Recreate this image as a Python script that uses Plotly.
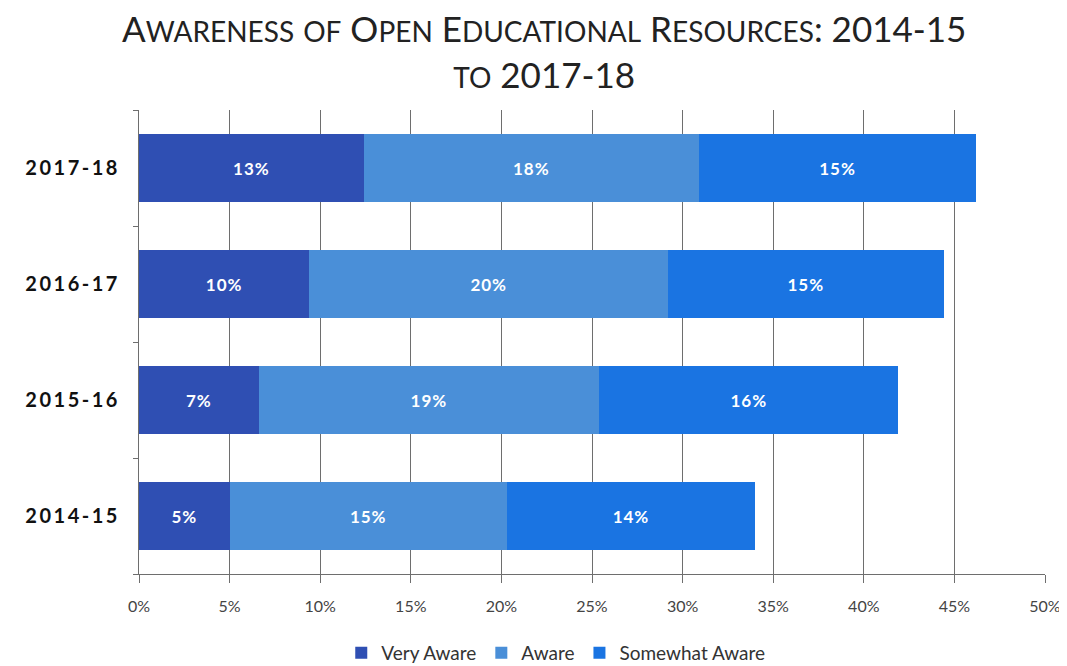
import plotly.graph_objects as go

years = ["2014-15", "2015-16", "2016-17", "2017-18"]
series_names = ["Very Aware", "Aware", "Somewhat Aware"]
very_aware = [5.0, 6.6, 9.4, 12.4]
aware = [15.3, 18.8, 19.8, 18.5]
somewhat_aware = [13.7, 16.5, 15.2, 15.3]
very_labels = ["5%", "7%", "10%", "13%"]
aware_labels = ["15%", "19%", "20%", "18%"]
somewhat_labels = ["14%", "16%", "15%", "15%"]
x_ticks = [0, 5, 10, 15, 20, 25, 30, 35, 40, 45, 50]

colors = ["#2f4fb3", "#4a8fd8", "#1a74e2"]

fig = go.Figure()
for name, vals, labels, col in zip(series_names,
                                   [very_aware, aware, somewhat_aware],
                                   [very_labels, aware_labels, somewhat_labels],
                                   colors):
    fig.add_trace(go.Bar(
        y=years, x=vals, name=name, orientation="h",
        marker=dict(color=col, line=dict(width=0)),
        text=[f"<span style='letter-spacing:1px'>{t}</span>" for t in labels],
        textposition="inside", insidetextanchor="middle",
        textfont=dict(family="Lato", size=17, color="white", weight="bold"),
        width=0.58,
    ))


def small_caps(s, small=28):
    out = ""
    for ch in s:
        if ch.islower():
            out += f"<span style='font-size:{small}px'>{ch.upper()}</span>"
        else:
            out += ch
    return out


# the page adds an 8px body margin, so figure coords = page coords - 8
title = (small_caps("Awareness of Open Educational Resources: 2014-15")
         + "<br>" + small_caps("to 2017-18"))
fig.add_annotation(text=title, xref="paper", yref="paper",
                   x=0.447, y=1 + (102 - 43) / 464, xanchor="center",
                   yanchor="middle", showarrow=False,
                   font=dict(family="Lato", size=35, color="#222"))

fig.update_layout(
    barmode="stack",
    width=1059, height=658,
    margin=dict(l=131, r=22, t=102, b=92),
    paper_bgcolor="white", plot_bgcolor="white",
    xaxis=dict(range=[0, 50], tickvals=x_ticks,
               ticktext=[f"{v}%" for v in x_ticks],
               showgrid=True, gridcolor="#6e6e6e", gridwidth=1.2,
               showline=True, linecolor="#6e6e6e", linewidth=1.2,
               ticks="outside", ticklen=8, tickcolor="#6e6e6e",
               tickfont=dict(family="Lato", size=16, color="#444"),
               ticklabelstandoff=10, ticklabeloverflow="allow",
               zeroline=False, fixedrange=True, automargin=False),
    yaxis=dict(categoryorder="array", categoryarray=years,
               tickvals=years,
               ticktext=[f"<span style='letter-spacing:2.5px'>{y}</span>" for y in years],
               showline=True, linecolor="#6e6e6e", linewidth=1.2,
               tickfont=dict(family="Lato", size=20, color="#111", weight="bold"),
               ticks="outside", tickson="boundaries", ticklen=5,
               tickcolor="#6e6e6e", tickwidth=1.2,
               ticklabelstandoff=14, fixedrange=True, automargin=False),
    legend=dict(orientation="h", x=0.46, xanchor="center",
                yref="container", y=13 / 658, yanchor="middle",
                font=dict(family="Lato", size=19, color="#333"),
                itemwidth=30, traceorder="normal"),
    showlegend=True,
)

fig.write_html("out.html")
